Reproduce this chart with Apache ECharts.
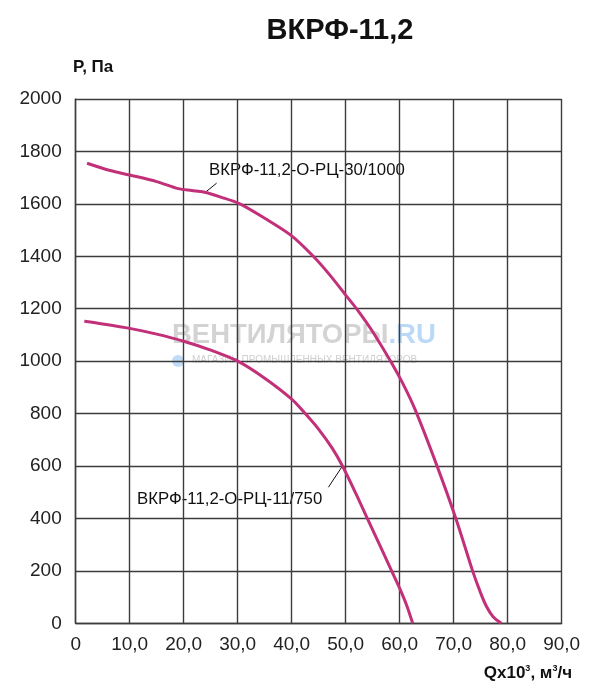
<!DOCTYPE html>
<html>
  <head>
    <meta charset="utf-8" />
    <title>ВКРФ-11,2</title>
    <style>
      body {
        margin: 0;
        padding: 0;
        background: #fff;
      }
      #chart {
        width: 600px;
        height: 692px;
      }
    </style>
    <script src="https://cdn.jsdelivr.net/npm/echarts@6/dist/echarts.min.js"></script>
  </head>

  <body>
    <div id="chart"></div>
  </body>
  <script>
    // данные
    const q1000 = [2.1, 6.4, 10, 15, 19, 21.5, 23.7, 27, 30.4, 35, 40, 44, 47, 50, 52, 55, 58.5, 60.5, 62.8, 66.7, 70.4, 73.5, 75, 76.1, 77.3, 78.8];
    const p1000 = [1755, 1727, 1710, 1685, 1658, 1651, 1645, 1625, 1600, 1545, 1478, 1400, 1330, 1252, 1200, 1112, 993, 918, 818, 612, 400, 200, 115, 63, 25, 0];

    const q750 = [1.6, 5, 10, 15, 20, 25, 30, 35, 40, 42.5, 45, 47.5, 49.4, 52, 54, 56.5, 58.5, 60, 61.3, 62.4];
    const p750 = [1152, 1142, 1125, 1103, 1076, 1042, 1000, 935, 855, 800, 740, 668, 600, 490, 400, 290, 200, 133, 68, 0];

    const xTicks = [0, 10, 20, 30, 40, 50, 60, 70, 80, 90];
    const yTicks = [0, 200, 400, 600, 800, 1000, 1200, 1400, 1600, 1800, 2000];

    const name1000 = "ВКРФ-11,2-О-РЦ-30/1000";
    const name750 = "ВКРФ-11,2-О-РЦ-11/750";

    // выноски к подписям (в единицах осей)
    const lead1000 = [[24.0, 1644], [26.1, 1679]];
    const lead750 = [[49.4, 600], [46.8, 519]];

    const FONT = "Liberation Sans, Arial, sans-serif";
    const CURVE = "#c2307a";
    const GRIDC = "#3c3c3c";

    function pairs(xs, ys) {
      return xs.map((x, i) => [x, ys[i]]);
    }

    function fmtX(v) {
      return v === 0 ? "0" : v.toFixed(1).replace(".", ",");
    }

    function series(name, xs, ys, lead) {
      return {
        name: name,
        type: "line",
        smooth: 0.3,
        symbol: "none",
        data: pairs(xs, ys),
        lineStyle: { color: CURVE, width: 3 },
        z: 5,
        markLine: {
          silent: true,
          symbol: "none",
          label: { show: false },
          lineStyle: { color: "#111", width: 1, type: "solid" },
          data: [[{ coord: lead[0] }, { coord: lead[1] }]],
        },
      };
    }

    let myChart = echarts.init(document.getElementById("chart"));
    myChart.setOption({
      animation: false,
      textStyle: { fontFamily: FONT },
      grid: { left: 75.7, right: 38.3, top: 99, bottom: 68.7 },
      xAxis: {
        type: "value",
        min: xTicks[0],
        max: xTicks[xTicks.length - 1],
        interval: 10,
        axisLine: { show: true, lineStyle: { color: GRIDC, width: 1.4 } },
        axisTick: { show: false },
        axisLabel: {
          color: "#222",
          fontSize: 19,
          fontFamily: FONT,
          margin: 12,
          formatter: fmtX,
        },
        splitLine: { show: true, lineStyle: { color: GRIDC, width: 1.4 } },
      },
      yAxis: {
        type: "value",
        min: yTicks[0],
        max: yTicks[yTicks.length - 1],
        interval: 200,
        axisLine: { show: true, lineStyle: { color: GRIDC, width: 1.4 } },
        axisTick: { show: false },
        axisLabel: {
          color: "#222",
          fontSize: 19,
          fontFamily: FONT,
          margin: 14,
          formatter: (v) => String(v),
        },
        splitLine: { show: true, lineStyle: { color: GRIDC, width: 1.4 } },
      },
      series: [
        series(name1000, q1000, p1000, lead1000),
        series(name750, q750, p750, lead750),
      ],
      graphic: [
        // водяной знак
        {
          type: "text",
          z: -10,
          left: 172,
          top: 321,
          style: {
            text: "{g|ВЕНТИЛЯТОРЫ}{b|.RU}",
            rich: {
              g: { fontSize: 27.5, fontWeight: "bold", fontFamily: FONT, fill: "rgba(175,175,175,0.55)" },
              b: { fontSize: 27.5, fontWeight: "bold", fontFamily: FONT, fill: "rgba(130,185,240,0.55)" },
            },
          },
        },
        {
          type: "circle",
          z: -10,
          shape: { cx: 178, cy: 361, r: 6 },
          style: { fill: "rgba(130,185,240,0.5)" },
        },
        {
          type: "text",
          z: -10,
          left: 192,
          top: 355,
          style: {
            text: "МАГАЗИН ПРОМЫШЛЕННЫХ ВЕНТИЛЯТОРОВ",
            fontSize: 10,
            fontFamily: FONT,
            fill: "rgba(175,175,175,0.6)",
          },
        },
        // заголовок
        {
          type: "text",
          x: 340,
          y: 31,
          style: {
            text: "ВКРФ-11,2",
            fontSize: 29,
            fontWeight: "bold",
            fontFamily: FONT,
            fill: "#111",
            align: "center",
            verticalAlign: "middle",
          },
        },
        {
          type: "text",
          x: 73,
          y: 67,
          style: {
            text: "P, Па",
            fontSize: 17,
            fontWeight: "bold",
            fontFamily: FONT,
            fill: "#111",
            verticalAlign: "middle",
          },
        },
        {
          type: "text",
          x: 572,
          y: 673,
          style: {
            text: "{a|Qx10}{s|3}{a|, м}{s|3}{a|/ч}",
            align: "right",
            verticalAlign: "middle",
            rich: {
              a: { fontSize: 17, fontWeight: "bold", fontFamily: FONT, fill: "#111" },
              s: { fontSize: 9, fontWeight: "bold", fontFamily: FONT, fill: "#111", verticalAlign: "top", padding: [0, 0, 8, 0] },
            },
          },
        },
        // подписи кривых
        {
          type: "text",
          x: 209,
          y: 170,
          style: {
            text: name1000,
            fontSize: 16.8,
            fontFamily: FONT,
            fill: "#111",
            verticalAlign: "middle",
          },
        },
        {
          type: "text",
          x: 137,
          y: 499,
          style: {
            text: name750,
            fontSize: 16.8,
            fontFamily: FONT,
            fill: "#111",
            verticalAlign: "middle",
          },
        },
      ],
    });
  </script>
</html>
